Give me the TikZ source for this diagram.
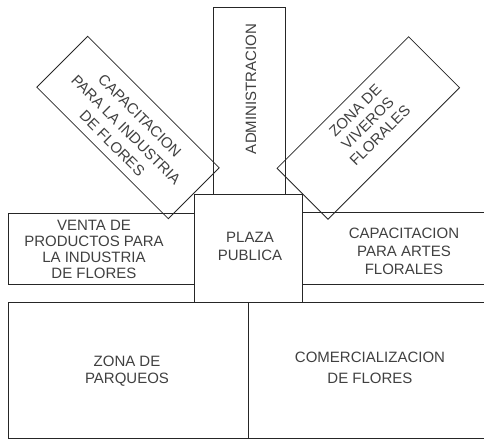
\documentclass[tikz,border=0pt]{standalone}
\usepackage{fontspec}
\setmainfont{Liberation Sans}
\begin{document}
\begin{tikzpicture}[x=1pt,y=-1pt,
  wall/.style={draw=black!85,line width=0.8pt},
  lbl/.style={inner sep=0pt,align=center,text=black!75,font=\fontsize{15}{16}\selectfont},
  rbox/.style={wall,minimum width=186pt,minimum height=72pt,inner sep=0pt}]
\useasboundingbox (0,0) rectangle (484,439);
\clip (0,0) rectangle (484,439);
% rectangles
\draw[wall] (213,7) rectangle (285,194);
\draw[wall] (194,194) rectangle (302,302);
\draw[wall] (8,213) rectangle (194,284);
\draw[wall] (490,212) -- (302,212) -- (302,284) -- (490,284);
\draw[wall] (8,302) rectangle (248,438);
\draw[wall] (490,302) -- (248,302) -- (248,438) -- (490,438);
% rotated boxes
\node[rbox,rotate=-45] (capbox) at (128,127.5) {};
\node[rbox,rotate=45] (vivbox) at (368.3,128) {};
% labels
\node[lbl,rotate=90] (admin) at (251,89) {ADMINISTRACION};
\node[lbl,font=\fontsize{15}{18}\selectfont] (plaza) at (250,246) {PLAZA\\PUBLICA};
\node[lbl,font=\fontsize{15}{16}\selectfont] (venta) at (94,249) {VENTA DE\\PRODUCTOS PARA\\LA INDUSTRIA\\DE FLORES};
\node[lbl,font=\fontsize{15}{18}\selectfont] (artes) at (404,251) {CAPACITACION\\PARA ARTES\\FLORALES};
\node[lbl,font=\fontsize{15}{17}\selectfont] (parq) at (127,371.5) {ZONA DE\\PARQUEOS};
\node[lbl,font=\fontsize{15}{21}\selectfont] (comer) at (370,367.5) {COMERCIALIZACION\\DE FLORES};
\node[lbl,rotate=-45,font=\fontsize{15}{19.5}\selectfont] (captxt) at (126,129.6) {CAPACITACION\\PARA LA INDUSTRIA\\DE FLORES};
\node[lbl,rotate=45,font=\fontsize{15}{17.5}\selectfont] (vivtxt) at (367.6,123.1) {ZONA DE\\VIVEROS\\FLORALES};
\end{tikzpicture}
\end{document}
